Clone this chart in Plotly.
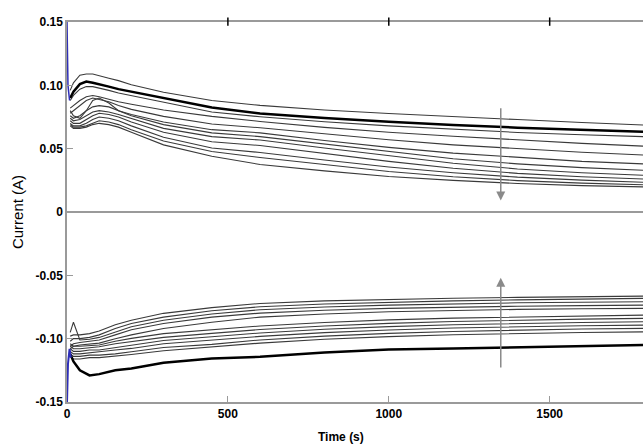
import plotly.graph_objects as go

# ---------------- data ----------------
t_up = [10, 20, 40, 60, 80, 100, 130, 160, 200, 300, 450, 600, 800, 1000, 1200, 1400, 1600, 1790]
up_thick = [0.090, 0.095, 0.101, 0.103, 0.102, 0.101, 0.099, 0.097, 0.095, 0.0895, 0.0825, 0.0778, 0.0742, 0.0712, 0.0686, 0.0666, 0.0648, 0.0634]
up_thin = [
    [0.096, 0.102, 0.108, 0.109, 0.109, 0.1075, 0.1056, 0.1037, 0.1005, 0.0945, 0.088, 0.0842, 0.0805, 0.0778, 0.0752, 0.0730, 0.0707, 0.0687],
    [0.088, 0.092, 0.097, 0.099, 0.099, 0.098, 0.096, 0.094, 0.092, 0.0865, 0.079, 0.0752, 0.0712, 0.0680, 0.0652, 0.0628, 0.0610, 0.0595],
    [0.082, 0.084, 0.088, 0.091, 0.092, 0.091, 0.089, 0.087, 0.085, 0.0805, 0.0755, 0.0715, 0.0668, 0.0630, 0.0598, 0.0568, 0.0542, 0.0520],
    [0.078, 0.080, 0.084, 0.088, 0.090, 0.089, 0.087, 0.084, 0.081, 0.0755, 0.0695, 0.0665, 0.0615, 0.0570, 0.0530, 0.0500, 0.0472, 0.0450],
    [0.080, 0.076, 0.074, 0.080, 0.088, 0.090, 0.086, 0.080, 0.077, 0.071, 0.065, 0.0625, 0.0565, 0.0510, 0.0465, 0.0430, 0.0400, 0.0380],
    [0.076, 0.074, 0.076, 0.080, 0.083, 0.084, 0.083, 0.080, 0.076, 0.069, 0.0625, 0.0595, 0.0535, 0.0478, 0.0420, 0.0380, 0.0350, 0.0330],
    [0.074, 0.072, 0.073, 0.076, 0.079, 0.080, 0.079, 0.077, 0.074, 0.066, 0.0595, 0.0568, 0.0505, 0.0445, 0.0385, 0.0340, 0.0310, 0.0290],
    [0.072, 0.070, 0.070, 0.073, 0.076, 0.078, 0.077, 0.075, 0.071, 0.063, 0.0555, 0.0525, 0.0460, 0.0400, 0.0345, 0.0305, 0.0278, 0.0260],
    [0.070, 0.068, 0.068, 0.070, 0.073, 0.075, 0.074, 0.072, 0.068, 0.059, 0.0505, 0.0470, 0.0410, 0.0355, 0.0310, 0.0275, 0.0252, 0.0235],
    [0.069, 0.067, 0.067, 0.068, 0.070, 0.072, 0.071, 0.069, 0.065, 0.056, 0.0478, 0.0430, 0.0375, 0.0320, 0.0278, 0.0248, 0.0228, 0.0215],
    [0.068, 0.066, 0.066, 0.067, 0.069, 0.070, 0.069, 0.067, 0.063, 0.053, 0.0440, 0.0375, 0.0325, 0.0280, 0.0250, 0.0225, 0.0208, 0.0198],
]

t_low = [10, 20, 40, 70, 100, 150, 200, 300, 450, 600, 800, 1000, 1200, 1400, 1600, 1790]
low_thick = [-0.112, -0.118, -0.125, -0.129, -0.128, -0.125, -0.1235, -0.119, -0.1156, -0.1143, -0.111, -0.1085, -0.1078, -0.107, -0.106, -0.105]
low_thin = [
    [-0.098, -0.097, -0.097, -0.096, -0.094, -0.089, -0.0855, -0.080, -0.0755, -0.0722, -0.0702, -0.0690, -0.0681, -0.0674, -0.0668, -0.0664],
    [-0.102, -0.100, -0.100, -0.099, -0.097, -0.092, -0.088, -0.083, -0.078, -0.0748, -0.0726, -0.0712, -0.0702, -0.0694, -0.0688, -0.0682],
    [-0.095, -0.087, -0.101, -0.1005, -0.099, -0.0945, -0.0906, -0.0855, -0.0805, -0.0772, -0.0750, -0.0735, -0.0725, -0.0717, -0.0712, -0.0709],
    [-0.106, -0.104, -0.103, -0.102, -0.101, -0.097, -0.093, -0.088, -0.083, -0.0798, -0.0776, -0.0761, -0.0751, -0.0744, -0.0739, -0.0735],
    [-0.108, -0.106, -0.105, -0.104, -0.1035, -0.100, -0.097, -0.092, -0.087, -0.0830, -0.0805, -0.0788, -0.0777, -0.0769, -0.0764, -0.0761],
    [-0.104, -0.106, -0.106, -0.1055, -0.105, -0.102, -0.0998, -0.096, -0.093, -0.0900, -0.0872, -0.0852, -0.0838, -0.0828, -0.0820, -0.0814],
    [-0.106, -0.108, -0.108, -0.107, -0.1064, -0.104, -0.1024, -0.099, -0.0958, -0.0928, -0.0900, -0.0879, -0.0864, -0.0853, -0.0846, -0.0840],
    [-0.108, -0.110, -0.110, -0.109, -0.109, -0.107, -0.1051, -0.1015, -0.0985, -0.0955, -0.0926, -0.0905, -0.0890, -0.0879, -0.0872, -0.0867],
    [-0.110, -0.112, -0.112, -0.111, -0.1103, -0.109, -0.1077, -0.104, -0.101, -0.0982, -0.0952, -0.0931, -0.0916, -0.0906, -0.0898, -0.0893],
    [-0.112, -0.114, -0.114, -0.113, -0.113, -0.112, -0.1103, -0.107, -0.1045, -0.1010, -0.0980, -0.0958, -0.0943, -0.0932, -0.0924, -0.0919],
    [-0.114, -0.116, -0.116, -0.115, -0.115, -0.114, -0.1125, -0.1095, -0.1065, -0.1035, -0.1005, -0.0984, -0.0969, -0.0958, -0.0951, -0.0946],
]

t_spike_up = [0, 1, 3, 8]
spike_up = [0.150, 0.130, 0.100, 0.088]
t_spike_low = [0, 3, 8, 12]
spike_low = [-0.150, -0.120, -0.108, -0.115]

x_ticks = [0, 500, 1000, 1500]
x_ticklabels = ["0", "500", "1000", "1500"]
y_ticks = [-0.15, -0.10, -0.05, 0, 0.05, 0.10, 0.15]
y_ticklabels = ["-0.15", "-0.10", "-0.05", "0", "0.05", "0.10", "0.15"]

# ---------------- figure ----------------
fig = go.Figure()
thin_style = dict(color="#3a3a3a", width=1.1)
for ys in up_thin:
    fig.add_trace(go.Scatter(x=t_up, y=ys, mode="lines", line=thin_style, showlegend=False))
fig.add_trace(go.Scatter(x=t_up, y=up_thick, mode="lines", line=dict(color="black", width=2.5), showlegend=False))
for ys in low_thin:
    fig.add_trace(go.Scatter(x=t_low, y=ys, mode="lines", line=thin_style, showlegend=False))
fig.add_trace(go.Scatter(x=t_low, y=low_thick, mode="lines", line=dict(color="black", width=2.5), showlegend=False))
fig.add_trace(go.Scatter(x=t_spike_up, y=spike_up, mode="lines", line=dict(color="#2e2eb8", width=1.5), showlegend=False))
fig.add_trace(go.Scatter(x=t_spike_low, y=spike_low, mode="lines", line=dict(color="#2e2eb8", width=2), showlegend=False))

axis_gray = "#9a9a9a"
font_family = "Liberation Sans, Arial, sans-serif"

fig.update_layout(
    width=643, height=445,
    margin=dict(l=67, r=0, t=22, b=43),
    paper_bgcolor="white", plot_bgcolor="white",
    font=dict(family=font_family, color="black"),
    xaxis=dict(
        range=[0, 1790], tickvals=x_ticks, ticktext=x_ticklabels,
        showgrid=False, zeroline=False,
        showline=True, linecolor=axis_gray, linewidth=1.5, mirror=True,
        ticks="inside", ticklen=6, tickcolor=axis_gray, tickwidth=1,
        tickfont=dict(size=12, family=font_family, weight="bold"),
    ),
    yaxis=dict(
        range=[-0.15, 0.15], tickvals=y_ticks, ticktext=y_ticklabels,
        showgrid=False, zeroline=True, zerolinecolor=axis_gray, zerolinewidth=1.5,
        showline=True, linecolor=axis_gray, linewidth=1.5,
        ticks="inside", ticklen=6, tickcolor=axis_gray, tickwidth=1,
        tickfont=dict(size=12, family=font_family, weight="bold"),
        title=dict(text="Current (A)", font=dict(size=15, family=font_family), standoff=8),
    ),
)

# top tick marks crossing the upper frame
for xv in x_ticks[1:]:
    fig.add_shape(type="line", xref="x", yref="paper", x0=xv, x1=xv, y0=0.99, y1=1.012,
                  line=dict(color="black", width=1.5))

# x-axis title
fig.add_annotation(text="<b>Time (s)</b>", xref="paper", yref="paper", x=0.475, y=-0.068,
                   yanchor="top", showarrow=False, font=dict(size=12, family=font_family))

# trend arrows
fig.add_annotation(x=1348, y=0.009, ax=1348, ay=0.083, xref="x", yref="y", axref="x", ayref="y",
                   showarrow=True, arrowhead=2, arrowsize=1.2, arrowwidth=1.5, arrowcolor="#8a8a8a", text="")
fig.add_annotation(x=1348, y=-0.052, ax=1348, ay=-0.124, xref="x", yref="y", axref="x", ayref="y",
                   showarrow=True, arrowhead=2, arrowsize=1.2, arrowwidth=1.5, arrowcolor="#8a8a8a", text="")

fig.write_html("out.html", config={"displayModeBar": False},
               post_script="document.body.style.margin='0px';document.body.style.overflow='hidden';")
